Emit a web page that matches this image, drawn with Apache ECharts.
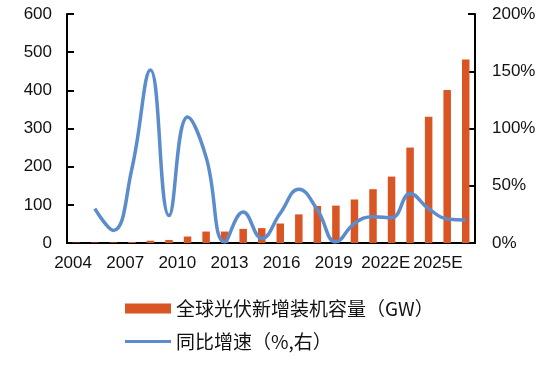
<!DOCTYPE html>
<html>
<head>
<meta charset="utf-8">
<script src="https://cdn.jsdelivr.net/npm/echarts@6/dist/echarts.min.js"></script>
<style>
html,body{margin:0;padding:0;background:#fff;}
#c{width:554px;height:371px;}
</style>
</head>
<body>
<div id="c"></div>
<script>
var categories = ['2004','2005','2006','2007','2008','2009','2010','2011','2012','2013','2014','2015','2016','2017','2018','2019','2020','2021','2022E','2023E','2024E','2025E'];
var capacityGW = [1.1,1.4,1.6,2.5,6,8,17,30,30,37,39,51,75,97,98,114,141,174,250,331,401,481];
var growthPct = [null,30,11,65,151,24,110,75,1,27,4,26,47,29,1,17,23,22,43,30,21,20];
var tickLabels = ['2004','2007','2010','2013','2016','2019','2022E','2025E'];
var leftTicks = {min:0, max:600, interval:100};
var rightTicks = {min:0, max:200, interval:50};
var seriesNames = ['全球光伏新增装机容量（GW）','同比增速（%,右）'];

var font = 'Liberation Sans, Arial, sans-serif';
var axisStyle = {lineStyle:{color:'#000', width:2}};
var lineIcon = 'path://M0,0 L0.01,0 L0,0.01 Z M0,3.5 L46,3.5 L46,6.5 L0,6.5 Z M0,10 L0.01,10 L0,9.99 Z';
var chart = echarts.init(document.getElementById('c'));
chart.setOption({
  animation:false,
  backgroundColor:'#fff',
  grid:[
    {left:67, right:79, top:14, bottom:128},
    {left:47, width:417, top:14, bottom:128}
  ],
  legend:{
    orient:'vertical', left:120, top:294, itemWidth:46, itemHeight:10, itemGap:14,
    textStyle:{fontFamily:'Noto Sans CJK SC', fontSize:19, color:'#111'},
    data:[{name:seriesNames[0], icon:'rect'},{name:seriesNames[1], icon:lineIcon}]
  },
  xAxis:[
    {type:'category', gridIndex:0, data:categories, boundaryGap:true,
     axisLine:axisStyle,
     axisTick:{inside:true, length:7, interval:1, lineStyle:{color:'#000', width:2}},
     axisLabel:{show:false}},
    {type:'category', gridIndex:1, data:tickLabels, boundaryGap:true,
     axisLine:{show:false}, axisTick:{show:false},
     axisLabel:{interval:0, margin:12, fontFamily:font, fontSize:17, color:'#111'}}
  ],
  yAxis:[
    {type:'value', gridIndex:0, min:leftTicks.min, max:leftTicks.max, interval:leftTicks.interval,
     axisLine:Object.assign({show:true}, axisStyle),
     axisTick:{show:true, inside:true, length:7, lineStyle:{color:'#000', width:2}},
     splitLine:{show:false},
     axisLabel:{margin:15, fontFamily:font, fontSize:17, color:'#111'}},
    {type:'value', gridIndex:0, position:'right', min:rightTicks.min, max:rightTicks.max, interval:rightTicks.interval,
     axisLine:Object.assign({show:true}, axisStyle),
     axisTick:{show:true, inside:true, length:7, lineStyle:{color:'#000', width:2}},
     splitLine:{show:false},
     axisLabel:{margin:17, fontFamily:font, fontSize:17, color:'#111', formatter:'{value}%'}},
    {type:'value', gridIndex:1, show:false}
  ],
  series:[
    {name:seriesNames[0], type:'bar', xAxisIndex:0, yAxisIndex:0, data:capacityGW,
     barWidth:7.5, itemStyle:{color:'#DA5524'}},
    {name:seriesNames[1], type:'line', xAxisIndex:0, yAxisIndex:1, data:growthPct,
     smooth:0.45, symbol:'none', connectNulls:false,
     lineStyle:{color:'#5B8CCB', width:3.5}, itemStyle:{color:'#5B8CCB'}}
  ]
});
</script>
</body>
</html>
